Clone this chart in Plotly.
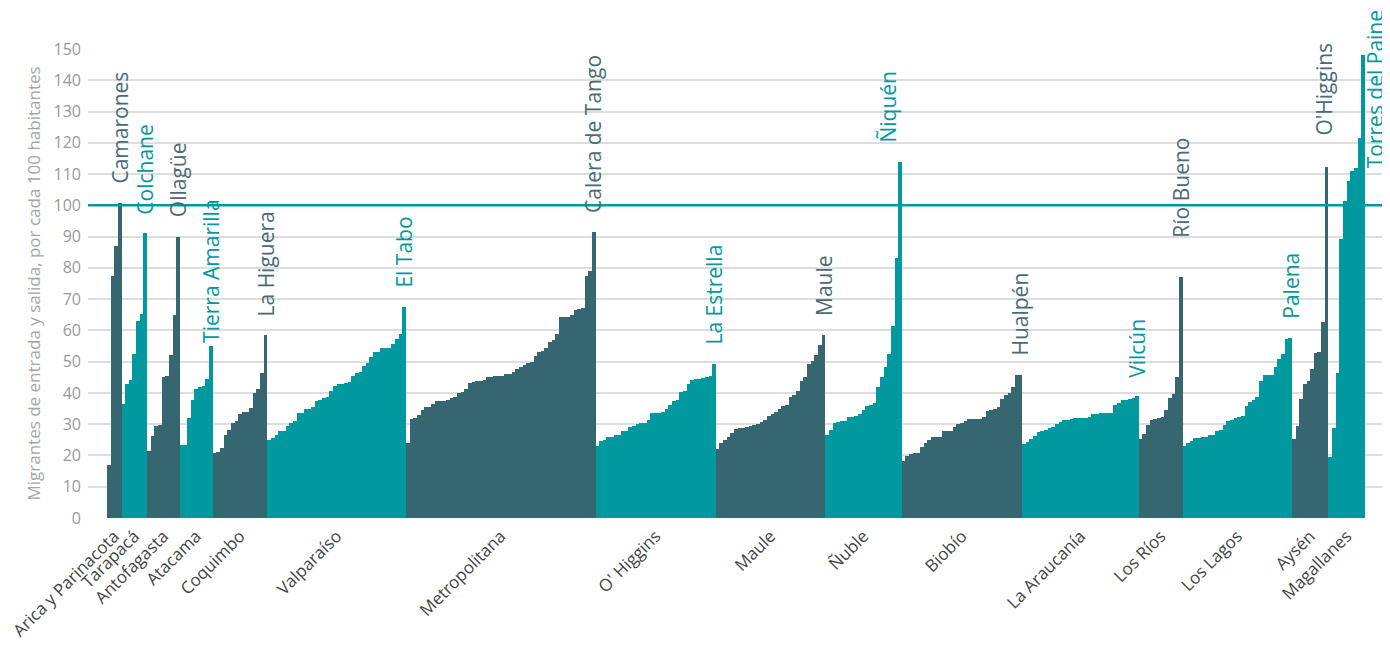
import plotly.graph_objects as go

# Regiones de norte a sur, cada una con sus comunas ordenadas de menor a mayor
regions = [
    "Arica y Parinacota", "Tarapacá", "Antofagasta", "Atacama", "Coquimbo",
    "Valparaíso", "Metropolitana", "O' Higgins", "Maule", "Ñuble", "Biobío",
    "La Araucanía", "Los Ríos", "Los Lagos", "Aysén", "Magallanes",
]

top_communes = [
    "Camarones", "Colchane", "Ollagüe", "Tierra Amarilla", "La Higuera",
    "El Tabo", "Calera de Tango", "La Estrella", "Maule", "Ñiquén", "Hualpén",
    "Vilcún", "Río Bueno", "Palena", "O'Higgins", "Torres del Paine",
]

arica = [17, 77.5, 87, 100.8]
tarapaca = [36.5, 43, 44, 52.4, 63, 65.3, 91]
antofagasta = [21.3, 26.2, 29.4, 29.8, 45.2, 45.4, 52, 65, 90]
atacama = [23.3, 23.5, 32, 37.8, 41.2, 42, 42.3, 44.4, 55]
coquimbo = [20.7, 21.1, 22.5, 26.4, 28.3, 30.4, 30.9, 33.3, 33.9, 33.9,
            35.3, 39.9, 41.3, 46.3, 58.4]
valparaiso = [24.9, 25.6, 26.6, 27.7, 27.9, 29.4, 30.5, 31, 33.6, 33.6,
              34.8, 34.8, 35.5, 37.4, 37.6, 38.4, 38.6, 40.5, 42.1, 42.7,
              42.9, 43.2, 43.5, 45.4, 46.4, 46.7, 48.5, 49.5, 51.4, 53.2,
              53.2, 54.3, 54.3, 54.5, 55.8, 57.4, 58.7, 67.5]
metropolitana = [24.1, 31.7, 32.1, 32.9, 34.4, 35.5, 35.5, 36.5, 37.4, 37.4,
                 37.4, 37.8, 38.4, 38.6, 39.9, 40.3, 41.2, 43.1, 43.5, 43.7,
                 43.7, 44.1, 45, 45, 45.3, 45.4, 45.4, 46, 46, 46.7,
                 47.5, 48.4, 49, 49.6, 49.8, 51.7, 53, 53.4, 54.3, 56.4,
                 56.8, 58.7, 64.3, 64.3, 64.3, 64.8, 66.4, 67, 67.2, 77.5,
                 78.9, 91.4]
ohiggins = [23, 24.5, 24.9, 25.8, 25.8, 26.4, 26.6, 27.9, 27.9, 29.1,
            29.4, 30.2, 30.4, 30.4, 31.5, 33.6, 33.6, 33.6, 34, 34.8,
            36.3, 37.4, 37.8, 40.3, 40.5, 42.7, 44.1, 44.6, 44.6, 44.8,
            45.2, 45.4, 49.4]
maule = [22, 24.1, 24.9, 25.8, 27.2, 28.5, 28.9, 28.9, 29.1, 29.4,
         29.6, 30.2, 30.8, 31.5, 32.5, 33.2, 34, 34.8, 35.7, 36.1,
         38.6, 39.3, 40.5, 43.7, 45.2, 49.4, 50.3, 52, 55.3, 58.5]
nuble = [26.6, 28.3, 30.4, 30.6, 31, 31, 32.3, 32.3, 32.5, 33.2,
         34.6, 35.7, 36.1, 36.7, 41.8, 45, 48.4, 52.4, 61.5, 83, 114]
biobio = [18.2, 19.9, 20.5, 20.7, 20.9, 22.6, 24.1, 24.9, 25.8, 25.8,
          25.9, 27.7, 27.7, 27.9, 29, 30, 30.4, 31, 31.7, 31.7,
          31.7, 31.7, 32.3, 34.2, 34.6, 34.8, 35.5, 38.2, 39.5, 39.9,
          42, 45.6, 45.8]
araucania = [23.7, 24.3, 25.3, 26.2, 27.5, 27.7, 28.1, 28.7, 29.1, 30.2,
             30.6, 31.5, 31.5, 31.7, 31.9, 32.1, 32.1, 32.1, 32.3, 33.2,
             33.4, 33.6, 33.6, 33.6, 33.6, 36.3, 36.7, 37.6, 37.6, 38.2,
             38.4, 38.9]
los_rios = [25.3, 26.8, 29.8, 31.5, 31.7, 31.9, 32.3, 34.4, 38.4, 39.7,
            45.2, 77.1]
los_lagos = [23, 24.1, 24.7, 25.6, 25.6, 26, 26, 26.4, 26.6, 27.9,
             28.3, 29.6, 31, 31.5, 32.1, 32.3, 32.7, 35.7, 37, 37.6,
             38.6, 43.7, 45.6, 45.8, 45.8, 48.4, 50.7, 52.6, 57.4, 57.7]
aysen = [25.3, 29.4, 38, 42.7, 43.9, 47.7, 52.8, 53.2, 62.7, 112.4]
magallanes = [19.6, 28.7, 46.5, 89.1, 101.4, 107.9, 111.1, 112.1, 121.4, 148]

region_values = [
    arica, tarapaca, antofagasta, atacama, coquimbo, valparaiso,
    metropolitana, ohiggins, maule, nuble, biobio, araucania, los_rios,
    los_lagos, aysen, magallanes,
]

DARK = "#36666f"
TEAL = "#00999f"
DARK_TEXT = "#4b6b73"
FONT = "Open Sans"

# pequeños ajustes de posición (px) para etiquetas que se acomodan a mano
label_nudge = {
    "Tierra Amarilla": (0, -16),
    "Río Bueno": (0, 20),
    "O'Higgins": (-3, 12),
    "Ñiquén": (-12, 0),
}

fig = go.Figure()

start = 0
tick_pos = []
for i, (name, vals, top) in enumerate(zip(regions, region_values, top_communes)):
    color = DARK if i % 2 == 0 else TEAL
    xs = list(range(start, start + len(vals)))
    fig.add_trace(
        go.Bar(
            x=xs,
            y=vals,
            width=1,
            marker=dict(color=color, line=dict(width=0)),
            name=name,
            showlegend=False,
        )
    )
    tick_pos.append(start + (len(vals) - 1) / 2)

    # etiqueta vertical con la comuna de mayor valor
    last = i == len(regions) - 1
    dx, dy = label_nudge.get(top, (0, 0))
    fig.add_annotation(
        x=xs[-1],
        y=vals[-1],
        text=top,
        textangle=-90,
        showarrow=False,
        borderpad=0,
        font=dict(family=FONT, size=21, color=DARK_TEXT if i % 2 == 0 else TEAL),
        xanchor="left" if last else "center",
        yanchor="top" if last else "bottom",
        xshift=-3 if last else dx,
        yshift=46 if last else 18 + dy,
    )
    start += len(vals)

fig.add_shape(
    type="line", xref="paper", yref="y",
    x0=0, x1=0.997, y0=100, y1=100,
    line=dict(color=TEAL, width=2.5),
)

# la página agrega 8 px de margen arriba y a la izquierda
fig.update_layout(
    width=1382,
    height=642,
    margin=dict(l=80, r=0, t=41, b=132),
    bargap=0,
    plot_bgcolor="white",
    paper_bgcolor="white",
    font=dict(family=FONT),
)

fig.update_xaxes(
    range=[-5.7, 351.4],
    tickvals=tick_pos,
    ticktext=regions,
    tickangle=-45,
    tickfont=dict(family=FONT, size=17, color="#444444"),
    ticklabeloverflow="allow",
    ticklabelstandoff=4,
    showgrid=False,
    zeroline=False,
    showline=False,
    ticks="",
    automargin=False,
)

fig.update_yaxes(
    range=[0, 150],
    dtick=10,
    tickfont=dict(family=FONT, size=16, color="#9a9a9a"),
    showgrid=True,
    gridcolor="#dddddd",
    gridwidth=1.5,
    zeroline=False,
    ticks="",
    ticklabelstandoff=6,
    automargin=False,
    title=dict(
        text="Migrantes de entrada y salida, por cada 100 habitantes",
        font=dict(family=FONT, size=17, color="#a5a5a5"),
        standoff=8,
    ),
)

fig.write_html("out.html")
